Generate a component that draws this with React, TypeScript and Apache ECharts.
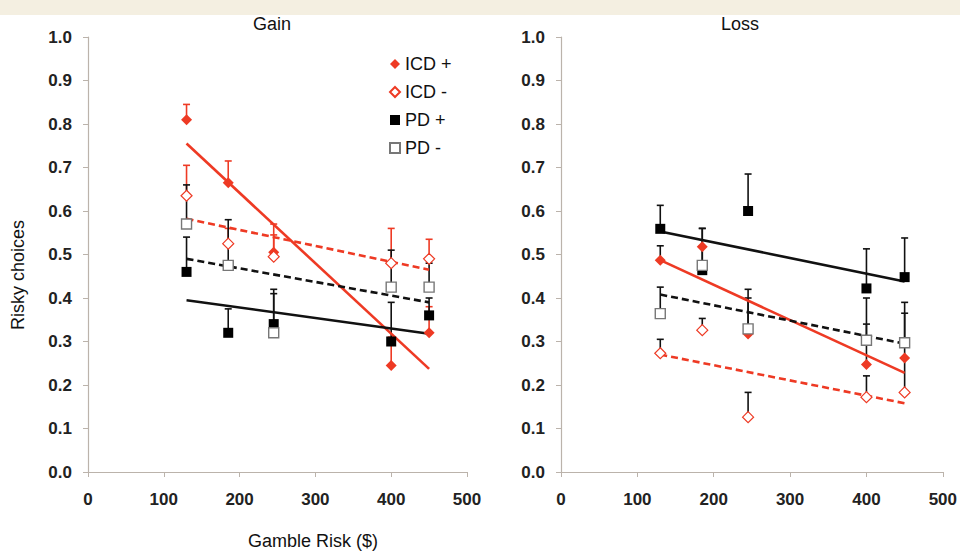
import React, { useEffect, useRef } from "react";
import * as echarts from "echarts";

const xVals = [130, 185, 245, 400, 450];
const trendX = [130, 450];
const seriesNames = ["ICD +", "ICD -", "PD +", "PD -"];
const xTicks = [0, 100, 200, 300, 400, 500];

// Gain panel
const gainIcdPlus = [0.81, 0.665, 0.505, 0.245, 0.32];
const gainIcdPlusErr = [0.845, 0.715, 0.57, 0.31, 0.38];
const gainIcdMinus = [0.635, 0.525, 0.495, 0.48, 0.49];
const gainIcdMinusErr = [0.705, 0.56, 0.545, 0.56, 0.535];
const gainPdPlus = [0.46, 0.32, 0.34, 0.3, 0.36];
const gainPdPlusErr = [0.54, 0.375, 0.42, 0.39, 0.4];
const gainPdMinus = [0.57, 0.475, 0.32, 0.425, 0.425];
const gainPdMinusErr = [0.66, 0.58, 0.41, 0.51, 0.48];
const gainTrendIcdPlus = [0.755, 0.237];
const gainTrendIcdMinus = [0.582, 0.465];
const gainTrendPdPlus = [0.395, 0.318];
const gainTrendPdMinus = [0.49, 0.39];

// Loss panel
const lossIcdPlus = [0.487, 0.518, 0.317, 0.247, 0.262];
const lossIcdPlusErr = [0.52, 0.56, 0.4, 0.34, 0.365];
const lossIcdMinus = [0.273, 0.326, 0.126, 0.172, 0.183];
const lossIcdMinusErr = [0.305, 0.353, 0.183, 0.221, 0.26];
const lossPdPlus = [0.559, 0.464, 0.6, 0.422, 0.448];
const lossPdPlusErr = [0.613, 0.56, 0.685, 0.513, 0.538];
const lossPdMinus = [0.364, 0.475, 0.329, 0.303, 0.297];
const lossPdMinusErr = [0.425, 0.52, 0.42, 0.4, 0.39];
const lossTrendIcdPlus = [0.487, 0.228];
const lossTrendIcdMinus = [0.27, 0.158];
const lossTrendPdPlus = [0.553, 0.438];
const lossTrendPdMinus = [0.408, 0.295];

const RED = "#ee3a24";
const BLACK = "#111111";
const GRAY = "#777777";
const FONT = "Liberation Sans, Arial, sans-serif";

function pairs(ys: number[]) {
  return xVals.map((x, i) => [x, ys[i]]);
}
function errData(ys: number[], tops: number[]) {
  return xVals.map((x, i) => [x, ys[i], tops[i]]);
}

function errSeries(idx: number, ys: number[], tops: number[], color: string) {
  return {
    type: "custom",
    xAxisIndex: idx,
    yAxisIndex: idx,
    z: 2,
    silent: true,
    data: errData(ys, tops),
    renderItem: (params: any, api: any) => {
      const x = api.value(0);
      const y = api.value(1);
      const t = api.value(2);
      const p0 = api.coord([x, y]);
      const p1 = api.coord([x, t]);
      const st = { stroke: color, lineWidth: 1.6 };
      return {
        type: "group",
        children: [
          { type: "line", shape: { x1: p0[0], y1: p0[1], x2: p1[0], y2: p1[1] }, style: st },
          { type: "line", shape: { x1: p1[0] - 3.5, y1: p1[1], x2: p1[0] + 3.5, y2: p1[1] }, style: st },
        ],
      };
    },
  };
}

function trendSeries(idx: number, ys: number[], color: string, dashed: boolean) {
  return {
    type: "line",
    xAxisIndex: idx,
    yAxisIndex: idx,
    z: 3,
    silent: true,
    symbol: "none",
    data: trendX.map((x, i) => [x, ys[i]]),
    lineStyle: { color, width: 2.6, type: dashed ? [7, 4] : "solid" },
  };
}

const markerStyles = [
  { symbol: "diamond", symbolSize: 11, itemStyle: { color: RED, borderColor: RED, borderWidth: 0, opacity: 1 } },
  { symbol: "diamond", symbolSize: 11, itemStyle: { color: "#ffffff", borderColor: RED, borderWidth: 1.2, opacity: 1 } },
  { symbol: "rect", symbolSize: 10, itemStyle: { color: "#000000", borderColor: "#000000", borderWidth: 0, opacity: 1 } },
  { symbol: "rect", symbolSize: 10, itemStyle: { color: "#ffffff", borderColor: GRAY, borderWidth: 1.4, opacity: 1 } },
];

function scatterSeries(idx: number, k: number, ys: number[]) {
  return {
    type: "scatter",
    name: seriesNames[k],
    xAxisIndex: idx,
    yAxisIndex: idx,
    z: 4,
    data: pairs(ys),
    ...markerStyles[k],
  };
}

function xAxisCfg(idx: number) {
  return {
    type: "value",
    gridIndex: idx,
    min: xTicks[0],
    max: xTicks[xTicks.length - 1],
    interval: 100,
    splitLine: { show: false },
    axisLine: { show: true, lineStyle: { color: "#bbb3ab", width: 1.2 } },
    axisTick: { show: true, length: 5, lineStyle: { color: "#bbb3ab" } },
    axisLabel: { color: "#222", fontSize: 17, fontWeight: "bold", fontFamily: FONT, margin: 19 },
  };
}
function yAxisCfg(idx: number) {
  return {
    type: "value",
    gridIndex: idx,
    min: 0,
    max: 1,
    interval: 0.1,
    splitLine: { show: false },
    axisLine: { show: true, lineStyle: { color: "#bbb3ab", width: 1.2 } },
    axisTick: { show: true, length: 5, lineStyle: { color: "#bbb3ab" } },
    axisLabel: {
      color: "#222",
      fontSize: 17,
      fontWeight: "bold",
      fontFamily: FONT,
      margin: 16,
      formatter: (v: number) => v.toFixed(1),
    },
  };
}

export default function App() {
  const ref = useRef<HTMLDivElement>(null);
  useEffect(() => {
    document.body.style.margin = "0";
    if (!ref.current) return;
    const chart = echarts.init(ref.current, undefined, { renderer: "svg" });
    const option: any = {
      animation: false,
      backgroundColor: "#ffffff",
      textStyle: { fontFamily: FONT },
      grid: [
        { left: 88, top: 37, width: 379, height: 435 },
        { left: 561, top: 37, width: 383, height: 435 },
      ],
      xAxis: [xAxisCfg(0), xAxisCfg(1)],
      yAxis: [yAxisCfg(0), yAxisCfg(1)],
      legend: {
        orient: "vertical",
        left: 384,
        top: 50,
        itemWidth: 10,
        itemHeight: 10,
        itemGap: 10,
        data: seriesNames,
        textStyle: { fontSize: 18, color: "#111", fontFamily: FONT },
        selectedMode: false,
      },
      graphic: [
        { type: "rect", shape: { x: 0, y: 0, width: 960, height: 15 }, style: { fill: "#f4efe1" }, silent: true },
        { type: "text", x: 272, y: 24, style: { text: "Gain", fontSize: 18, fill: "#111", fontFamily: FONT, align: "center", verticalAlign: "middle" } },
        { type: "text", x: 740, y: 24, style: { text: "Loss", fontSize: 18, fill: "#111", fontFamily: FONT, align: "center", verticalAlign: "middle" } },
        { type: "text", x: 18, y: 275, rotation: Math.PI / 2, style: { text: "Risky choices", fontSize: 18, fill: "#111", fontFamily: FONT, align: "center", verticalAlign: "middle" } },
        { type: "text", x: 313, y: 541, style: { text: "Gamble Risk ($)", fontSize: 18, fill: "#111", fontFamily: FONT, align: "center", verticalAlign: "middle" } },
      ],
      series: [
        errSeries(0, gainIcdPlus, gainIcdPlusErr, RED),
        errSeries(0, gainIcdMinus, gainIcdMinusErr, RED),
        errSeries(0, gainPdPlus, gainPdPlusErr, BLACK),
        errSeries(0, gainPdMinus, gainPdMinusErr, BLACK),
        trendSeries(0, gainTrendIcdPlus, RED, false),
        trendSeries(0, gainTrendIcdMinus, RED, true),
        trendSeries(0, gainTrendPdPlus, BLACK, false),
        trendSeries(0, gainTrendPdMinus, BLACK, true),
        scatterSeries(0, 0, gainIcdPlus),
        scatterSeries(0, 1, gainIcdMinus),
        scatterSeries(0, 2, gainPdPlus),
        scatterSeries(0, 3, gainPdMinus),
        errSeries(1, lossIcdPlus, lossIcdPlusErr, BLACK),
        errSeries(1, lossIcdMinus, lossIcdMinusErr, BLACK),
        errSeries(1, lossPdPlus, lossPdPlusErr, BLACK),
        errSeries(1, lossPdMinus, lossPdMinusErr, BLACK),
        trendSeries(1, lossTrendIcdPlus, RED, false),
        trendSeries(1, lossTrendIcdMinus, RED, true),
        trendSeries(1, lossTrendPdPlus, BLACK, false),
        trendSeries(1, lossTrendPdMinus, BLACK, true),
        scatterSeries(1, 0, lossIcdPlus),
        scatterSeries(1, 1, lossIcdMinus),
        scatterSeries(1, 2, lossPdPlus),
        scatterSeries(1, 3, lossPdMinus),
      ],
    };
    chart.setOption(option);
    return () => chart.dispose();
  }, []);
  return <div ref={ref} style={{ width: 960, height: 551 }} />;
}
